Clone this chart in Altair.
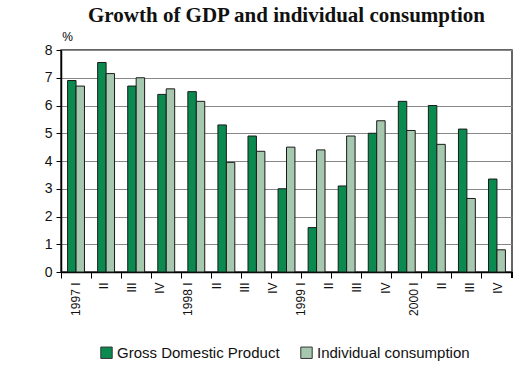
import altair as alt
import pandas as pd

quarters = ["q%02d" % i for i in range(15)]
gdp = [6.9, 7.55, 6.7, 6.4, 6.5, 5.3, 4.9, 3.0, 1.6, 3.1, 5.0, 6.15, 6.0, 5.15, 3.35]
consumption = [6.7, 7.15, 7.0, 6.6, 6.15, 3.95, 4.35, 4.5, 4.4, 4.9, 5.45, 5.1, 4.6, 2.65, 0.8]
tick_labels = ["1997 I", "II", "III", "IV", "1998 I", "II ", "III ", "IV ",
               "1999 I", "II  ", "III  ", "IV  ", "2000 I", "II   ", "III   ", "IV   "]
series = ["Gross Domestic Product", "Individual consumption"]
colors = ["#0b8a4f", "#a6c8ae"]

rows = []
for q, g, c in zip(quarters, gdp, consumption):
    rows.append({"quarter": q, "series": series[0], "value": g})
    rows.append({"quarter": q, "series": series[1], "value": c})
df = pd.DataFrame(rows)
lab_df = pd.DataFrame({"label": tick_labels})

W, H = 451, 222
FONT = "Liberation Sans"

bars = alt.Chart(df).mark_bar(stroke="#1a1a1a", strokeWidth=1).encode(
    x=alt.X("quarter:N", sort=quarters,
            scale=alt.Scale(paddingInner=0, paddingOuter=0),
            axis=alt.Axis(labels=False, title=None, bandPosition=0, ticks=True,
                          tickSize=6, tickColor="#000", domainColor="#000",
                          domainWidth=1.5, grid=False)),
    xOffset=alt.XOffset("series:N", sort=series,
                        scale=alt.Scale(paddingInner=0, paddingOuter=0.78)),
    y=alt.Y("value:Q", scale=alt.Scale(domain=[0, 8], nice=False),
            axis=alt.Axis(values=list(range(9)), title="%", titleAngle=0,
                          titleX=6, titleY=-7, titleFont=FONT,
                          titleFontWeight="normal", titleFontSize=12,
                          titleAlign="center",
                          labelFont=FONT, labelFontSize=14, labelColor="#111",
                          labelPadding=4, tickSize=5, tickColor="#000",
                          domainColor="#000", domainWidth=1.5,
                          gridColor="#888", gridWidth=1.2)),
    color=alt.Color("series:N", sort=series,
                    scale=alt.Scale(domain=series, range=colors),
                    legend=alt.Legend(orient="none", direction="horizontal",
                                      legendX=38, legendY=295, title=None,
                                      symbolType="square", symbolSize=130,
                                      symbolStrokeColor="#333",
                                      symbolStrokeWidth=1, labelOffset=3,
                                      labelLimit=0,
                                      labelFont=FONT, labelFontSize=15,
                                      labelColor="#111", columnPadding=18)),
)

labels = alt.Chart(lab_df).mark_point(opacity=0).encode(
    x=alt.X("label:N", sort=tick_labels,
            scale=alt.Scale(paddingInner=0, paddingOuter=0.15),
            axis=alt.Axis(orient="bottom", title=None, ticks=False, domain=False,
                          labelAngle=-90, labelAlign="right",
                          labelBaseline="middle", labelPadding=10,
                          labelFont=FONT, labelFontSize=12, labelColor="#111",
                          grid=False)),
)

end_tick = alt.Chart(lab_df).mark_rule(color="#000", strokeWidth=1).encode(
    x=alt.value(W), y=alt.value(H), y2=alt.value(H + 6)
)

chart = alt.layer(bars, labels, end_tick).resolve_scale(
    x="independent"
).resolve_axis(x="independent").properties(
    width=W, height=H,
    title=alt.Title("Growth of GDP and individual consumption",
                    font="Liberation Serif", fontSize=21, fontWeight="bold",
                    color="#111", anchor="middle", offset=4),
    autosize=alt.AutoSizeParams(type="none"),
    padding={"left": 61, "top": 50, "right": 8, "bottom": 93},
).configure_view(stroke="#333", strokeWidth=1.5)

chart.save("out.html", embed_options={"renderer": "svg", "actions": False})
